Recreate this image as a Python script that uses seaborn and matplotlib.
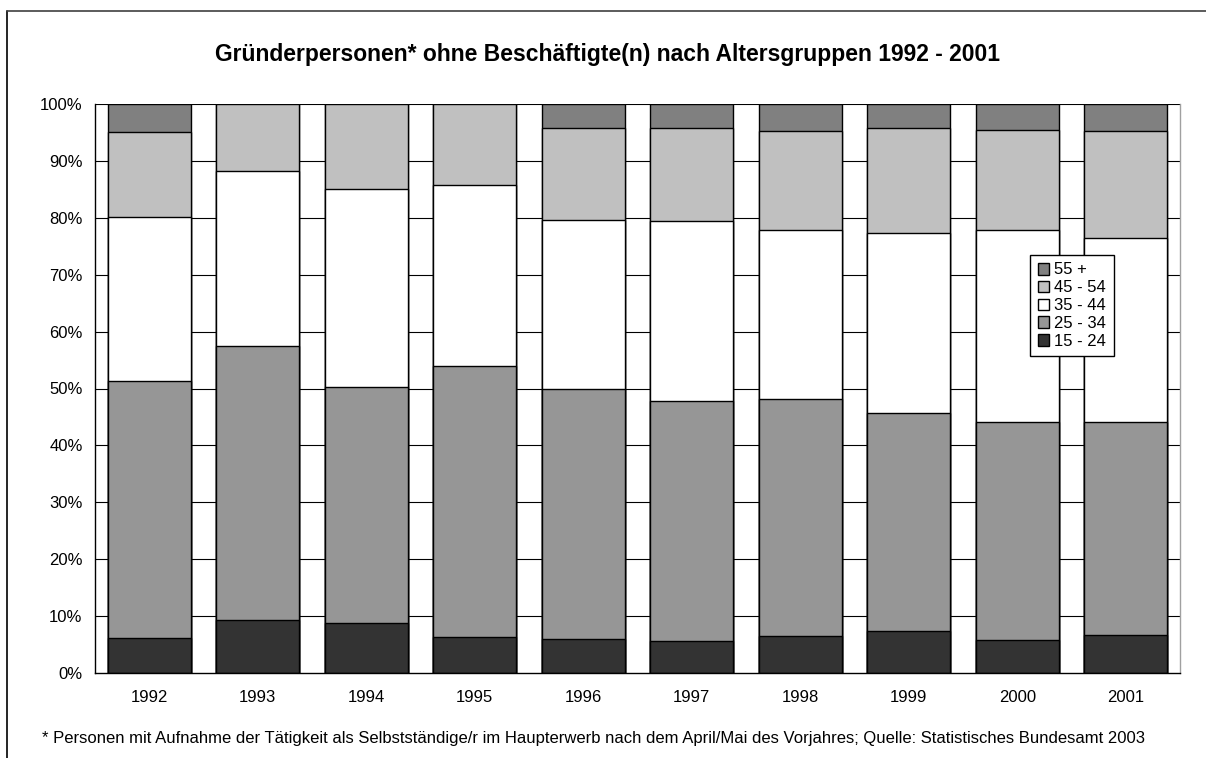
import matplotlib
matplotlib.use("Agg")
import matplotlib.pyplot as plt
from matplotlib.patches import Patch
from matplotlib.lines import Line2D
import numpy as np
import pandas as pd
import seaborn as sns

# Shares of founders without employees by age group (percent)
years = ["1992", "1993", "1994", "1995", "1996", "1997", "1998", "1999", "2000", "2001"]
age_15_24 = [6.2, 9.4, 8.7, 6.3, 5.9, 5.7, 6.5, 7.3, 5.8, 6.7]
age_25_34 = [45.2, 48.0, 41.6, 47.7, 44.0, 42.1, 41.7, 38.4, 38.3, 37.5]
age_35_44 = [28.8, 30.8, 34.7, 31.7, 29.8, 31.6, 29.7, 31.7, 33.7, 32.3]
age_45_54 = [14.9, 11.8, 15.0, 14.3, 16.1, 16.3, 17.3, 18.3, 17.6, 18.7]
age_55_plus = [4.9, 0.0, 0.0, 0.0, 4.2, 4.3, 4.8, 4.3, 4.6, 4.8]

groups = ["15 - 24", "25 - 34", "35 - 44", "45 - 54", "55 +"]
colors = ["#333333", "#969696", "#FFFFFF", "#C0C0C0", "#808080"]

df = pd.DataFrame({
    "year": years,
    "15 - 24": age_15_24,
    "25 - 34": age_25_34,
    "35 - 44": age_35_44,
    "45 - 54": age_45_54,
    "55 +": age_55_plus,
})
cum = df[groups].cumsum(axis=1)
cum.insert(0, "year", df["year"])

sns.set_theme(style="white")
plt.rcParams["font.family"] = ["Liberation Sans", "DejaVu Sans"]
plt.rcParams["text.color"] = "black"
plt.rcParams["xtick.color"] = "black"
plt.rcParams["ytick.color"] = "black"
plt.rcParams["xtick.labelcolor"] = "black"
plt.rcParams["ytick.labelcolor"] = "black"

FS = 12

fig = plt.figure(figsize=(12.06, 7.58), dpi=100)
ax = fig.add_axes([95 / 1206, 1 - 673 / 758, (1180 - 95) / 1206, (673 - 104) / 758])

# Horizontal gridlines behind the bars
for v in range(10, 101, 10):
    ax.axhline(v, color="#000000", lw=0.8, zorder=0)

# Stacked bars: draw cumulative totals from the top layer down
for g, c in reversed(list(zip(groups, colors))):
    sns.barplot(data=cum, x="year", y=g, color=c, saturation=1, width=0.766,
                edgecolor="black", linewidth=1.0, ax=ax, zorder=2)

ax.set_xlim(-0.5, 9.5)
ax.set_ylim(0, 100)
ax.set_xlabel("")
ax.set_ylabel("")
ax.set_yticks(range(0, 101, 10))
ax.set_yticklabels([f"{v}%" for v in range(0, 101, 10)], fontsize=FS)
ax.set_xticks(range(len(years)))
ax.set_xticklabels(years, fontsize=FS)
ax.set_xticks(np.arange(-0.5, 10, 1.0), minor=True)
ax.tick_params(axis="x", which="major", length=0, pad=12)
ax.tick_params(axis="x", which="minor", length=5, width=1, direction="out")
ax.tick_params(axis="y", which="major", length=5, width=1, direction="out", pad=4)
ax.grid(False)

for side in ["left", "bottom"]:
    ax.spines[side].set_color("black")
    ax.spines[side].set_linewidth(1.0)
ax.spines["top"].set_visible(False)
ax.spines["right"].set_color("#A0A0A0")
ax.spines["right"].set_linewidth(1.0)

# Legend, top entry first, opaque box over the bars
handles = [Patch(facecolor=c, edgecolor="black", linewidth=1.0, label=g)
           for g, c in reversed(list(zip(groups, colors)))]
leg = ax.legend(handles=handles, loc="upper left",
                bbox_to_anchor=(1030 / 1206, 1 - 255 / 758),
                bbox_transform=fig.transFigure, frameon=True, fancybox=False,
                framealpha=1.0, facecolor="white",
                fontsize=FS, handlelength=0.7, handleheight=0.7,
                handletextpad=0.3, labelspacing=0.17, borderpad=0.45,
                borderaxespad=0)
leg.set_zorder(10)
leg.get_frame().set_edgecolor("black")
leg.get_frame().set_linewidth(1.0)
for t in leg.get_texts():
    t.set_color("black")

fig.text(0.504, 1 - 54 / 758,
         "Gründerpersonen* ohne Beschäftigte(n) nach Altersgruppen 1992 - 2001",
         ha="center", va="center", fontsize=16.5, fontweight="bold", color="black")
fig.text(42 / 1206, 1 - 738 / 758,
         "* Personen mit Aufnahme der Tätigkeit als Selbstständige/r im Haupterwerb "
         "nach dem April/Mai des Vorjahres; Quelle: Statistisches Bundesamt 2003",
         ha="left", va="center", fontsize=FS, color="black")

# Chart area frame
fig.add_artist(Line2D([7 / 1206, 7 / 1206], [0, 1 - 11 / 758], color="black", lw=1.2,
                      transform=fig.transFigure))
fig.add_artist(Line2D([7 / 1206, 1], [1 - 11 / 758, 1 - 11 / 758], color="#404040", lw=1.2,
                      transform=fig.transFigure))

fig.savefig("out.png", dpi=100)
